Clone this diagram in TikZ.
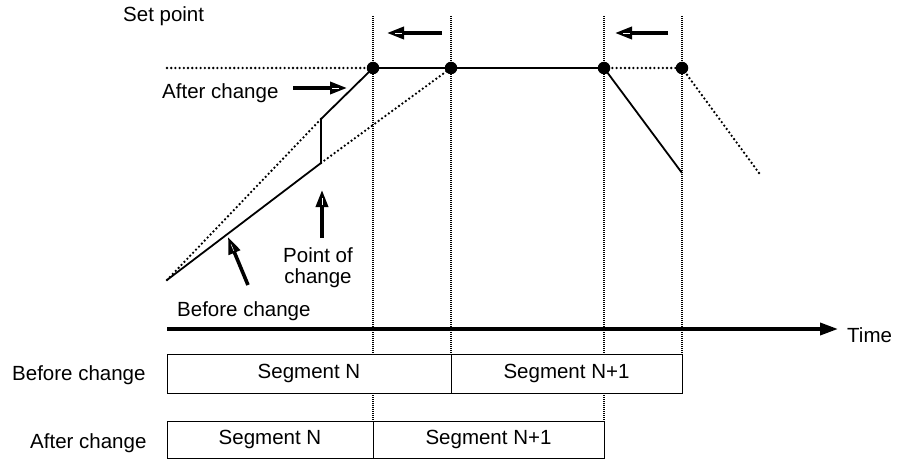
\documentclass[tikz,border=0pt]{standalone}
\usepackage{fontspec}
\setmainfont{Liberation Sans}
\usetikzlibrary{arrows.meta,calc}
\begin{document}
\begin{tikzpicture}[x=1pt,y=-1pt,
  lbl/.style={inner sep=0pt,font=\fontsize{20.5}{24}\selectfont},
  solidln/.style={line width=1.8pt},
  dotln/.style={line width=2.6pt,line cap=round,dash pattern=on 0pt off 4.2pt},
  vdot/.style={line width=1.6pt,dash pattern=on 1pt off 1pt},
  bigarrow/.style={line width=3.6pt,-{Triangle[length=17pt,width=12pt]}},
  stripe/.style={white,line width=0.5pt},
  setdot/.style={circle,fill=black,inner sep=0pt,minimum size=12.5pt},
  segbox/.style={draw,line width=0.9pt,inner sep=0pt,font=\fontsize{20.5}{24}\selectfont},
]
\useasboundingbox (0,0) rectangle (902,460);
% key points
\coordinate (S0) at (167,68);
\coordinate (Start) at (167,280);
\coordinate (K1) at (321,119);
\coordinate (K2) at (321,163);
\coordinate (Down1) at (682,173);
\coordinate (Down2) at (759,173);
% vertical dotted lines
\coordinate (V1t) at (373,16); \coordinate (V1a) at (373,354);
\coordinate (V1b) at (373,393); \coordinate (V1c) at (373,421);
\coordinate (V2t) at (451,16); \coordinate (V2a) at (451,354);
\coordinate (V3t) at (604,16); \coordinate (V3a) at (604,354);
\coordinate (V3b) at (604,393); \coordinate (V3c) at (604,421);
\coordinate (V4t) at (682,16); \coordinate (V4a) at (682,354);
\draw[vdot] (V1t) -- (V1a); \draw[vdot] (V1b) -- (V1c);
\draw[vdot] (V2t) -- (V2a);
\draw[vdot] (V3t) -- (V3a); \draw[vdot] (V3b) -- (V3c);
\draw[vdot] (V4t) -- (V4a);
% set point dots
\coordinate (P1c) at (373,68);
\coordinate (P2c) at (451,68);
\coordinate (P3c) at (604,68);
\coordinate (P4c) at (682,68);
% set point line
\draw[dotln] (S0) -- (P1c);
\draw[solidln] (P1c) -- (P3c);
\draw[dotln] (P3c) -- (P4c);
% ramps
\draw[solidln] (Start) -- (K2) -- (K1) -- (P1c);
\draw[dotln] (Start) -- (K1);
\draw[dotln] (K2) -- (P2c);
\draw[solidln] (P3c) -- (Down1);
\draw[dotln] (P4c) -- (Down2);
\node[setdot] (P1) at (P1c) {};
\node[setdot] (P2) at (P2c) {};
\node[setdot] (P3) at (P3c) {};
\node[setdot] (P4) at (P4c) {};
% time axis
\coordinate (T0) at (167,329);
\coordinate (T1) at (838,329);
\draw[line width=3.6pt,-{Triangle[length=18pt,width=12pt]}] (T0) -- (T1);
% labels
\node[lbl,anchor=base west] (setpt) at (123,22) {Set point};
\node[lbl,anchor=base west] (aftlbl) at (162,98) {After change};
\node[lbl,anchor=base west] (beflbl) at (177,316) {Before change};
\node[lbl,anchor=base] (poc1) at (318,262) {Point of};
\node[lbl,anchor=base] (poc2) at (318,283) {change};
\node[lbl,anchor=base west] (time) at (847,342) {Time};
\node[lbl,anchor=base west] (befrow) at (12,380) {Before change};
\node[lbl,anchor=base west] (aftrow) at (30,448) {After change};
% arrows
\coordinate (A1s) at (442,33); \coordinate (A1e) at (387,33);
\coordinate (A2s) at (668,33); \coordinate (A2e) at (615,33);
\coordinate (A3s) at (293,88); \coordinate (A3e) at (347,88);
\coordinate (A4s) at (322,238); \coordinate (A4e) at (322,190);
\coordinate (A5s) at (248,285); \coordinate (A5e) at (228,237);
\foreach \s/\e in {A1s/A1e,A2s/A2e,A3s/A3e,A4s/A4e,A5s/A5e}{
  \draw[bigarrow] (\s) -- (\e);
  \draw[stripe] ($(\e)!8pt!(\s)$) -- ($(\e)!15pt!(\s)$);
}
% segment boxes
\node[segbox,minimum width=284pt,minimum height=39pt] (bN) at (309,373.5) {Segment N};
\node[segbox,minimum width=231pt,minimum height=39pt] (bN1) at (566.5,373.5) {Segment N+1};
\node[segbox,minimum width=206pt,minimum height=37pt] (aN) at (270,439.5) {Segment N};
\node[segbox,minimum width=231pt,minimum height=37pt] (aN1) at (488.5,439.5) {Segment N+1};
\end{tikzpicture}
\end{document}
